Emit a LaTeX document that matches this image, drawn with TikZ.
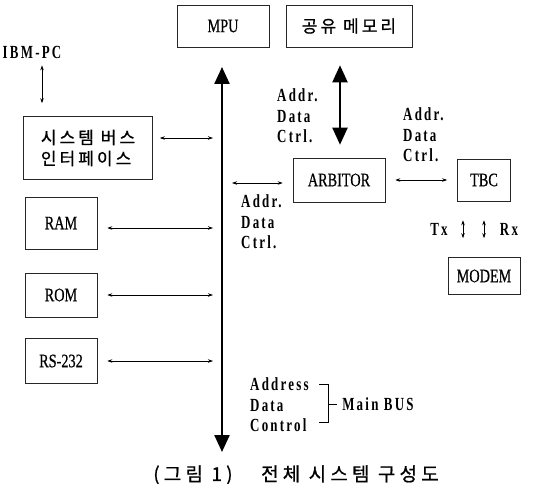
\documentclass[tikz,border=0pt]{standalone}
\usepackage{fontspec}
\setmainfont{Liberation Serif}
\newfontfamily\boxfont{Liberation Serif}[FakeStretch=0.75, FakeBold=0.6]
\newfontfamily\sigfont{Liberation Serif}[FakeStretch=0.7, LetterSpace=12]
\newfontfamily\kofont{Noto Sans CJK KR}[LetterSpace=18, FakeBold=0.8]
\newfontfamily\capfont{Noto Sans CJK KR}[LetterSpace=22, FakeBold=0.8]
\usetikzlibrary{arrows.meta}
\begin{document}
\begin{tikzpicture}[x=1pt, y=-1pt,
  blk/.style={draw=black!85, line width=0.6pt, inner sep=0pt, font=\boxfont\fontsize{19}{21}\selectfont},
  lbl/.style={inner sep=0pt, align=left, font=\sigfont\bfseries\fontsize{18.5}{20.5}\selectfont},
  sig/.style={line width=0.7pt, {Stealth[length=5pt,width=3.5pt]}-{Stealth[length=5pt,width=3.5pt]}},
  bus/.style={line width=2.4pt, {Triangle[length=17pt,width=15pt]}-{Triangle[length=17pt,width=15pt]}}]
\useasboundingbox (0,0) rectangle (538,484);
% boxes
\node[blk, minimum width=92pt, minimum height=42pt] (mpu) at (223,26) {MPU};
\node[blk, minimum width=126pt, minimum height=42pt, font=\kofont\fontsize{17}{19}\selectfont] (shm) at (349,26) {공유 메모리};
\node[blk, minimum width=129pt, minimum height=63pt, align=left, font=\kofont\fontsize{17}{21}\selectfont] (sbi) at (88,148) {시스템 버스\\인터페이스};
\node[blk, minimum width=72pt, minimum height=52pt] (ram) at (61,223) {RAM};
\node[blk, minimum width=72pt, minimum height=44pt] (rom) at (61,295) {ROM};
\node[blk, minimum width=72pt, minimum height=45pt] (rs) at (61,361) {RS-232};
\node[blk, minimum width=92pt, minimum height=44pt] (arb) at (339,180) {ARBITOR};
\node[blk, minimum width=53pt, minimum height=42pt] (tbc) at (484,180) {TBC};
\node[blk, minimum width=72pt, minimum height=37pt] (modem) at (484,276) {MODEM};
\node[lbl] (ibm) at (32,52) {IBM-PC};
% main bus
\coordinate (bt) at (222,67);
\coordinate (bb) at (222,452);
\draw[bus] (bt) -- (bb);
\draw[bus, line width=2pt] (arb.north) ++(1pt,0) coordinate (ab) -- (ab |- shm.south) [shorten <=13pt, shorten >=18pt];
% links to the bus
\draw[sig, shorten <=7pt, shorten >=13pt] ([xshift=10pt]ibm.south) -- ([xshift=10pt]ibm.south |- sbi.north);
\draw[sig, shorten <=7pt, shorten >=9pt] ([yshift=10pt]sbi.east) -- ([yshift=10pt]sbi.east -| bt);
\draw[sig, shorten <=10pt, shorten >=9pt] ([yshift=-5pt]ram.east) -- ([yshift=-5pt]ram.east -| bt);
\draw[sig, shorten <=10pt, shorten >=9pt] (rom.east) -- (rom.east -| bt);
\draw[sig, shorten <=10pt, shorten >=9pt] (rs.east) -- (rs.east -| bt);
\draw[sig, shorten <=10pt, shorten >=10pt] ([yshift=-3pt]arb.west -| bt) -- ([yshift=-3pt]arb.west);
\draw[sig, shorten <=10pt, shorten >=10pt] (arb.east) -- (arb.east -| tbc.west);
\draw[sig, shorten <=19pt, shorten >=19pt] ([xshift=-21pt]modem.north) -- ([xshift=-21pt]modem.north |- tbc.south);
\draw[sig, shorten <=19pt, shorten >=19pt] (tbc.south) -- (modem.north);
% signal labels
\node[lbl, anchor=west] (sl1) at (277,116) {Addr.\\Data\\Ctrl.};
\node[lbl, anchor=west] (sl2) at (403,135) {Addr.\\Data\\Ctrl.};
\node[lbl, anchor=west] (sl3) at (241,222) {Addr.\\Data\\Ctrl.};
\node[lbl] (tx) at (439,229) {Tx};
\node[lbl] (rx) at (509,229) {Rx};
% bus legend
\node[lbl, anchor=west] (leg) at (250,405) {Address\\Data\\Control};
\draw[line width=0.6pt] (319,384) -- (328,384) -- (328,422) -- (319,422);
\draw[line width=0.6pt] (328,404) -- (337,404) node[lbl, anchor=west, xshift=5pt] (mb) {Main BUS};
% caption
\node[font=\capfont\fontsize{19}{20}\selectfont] (cap) at (296,475) {(그림 1)\quad\enspace 전체 시스템 구성도};
\end{tikzpicture}
\end{document}
